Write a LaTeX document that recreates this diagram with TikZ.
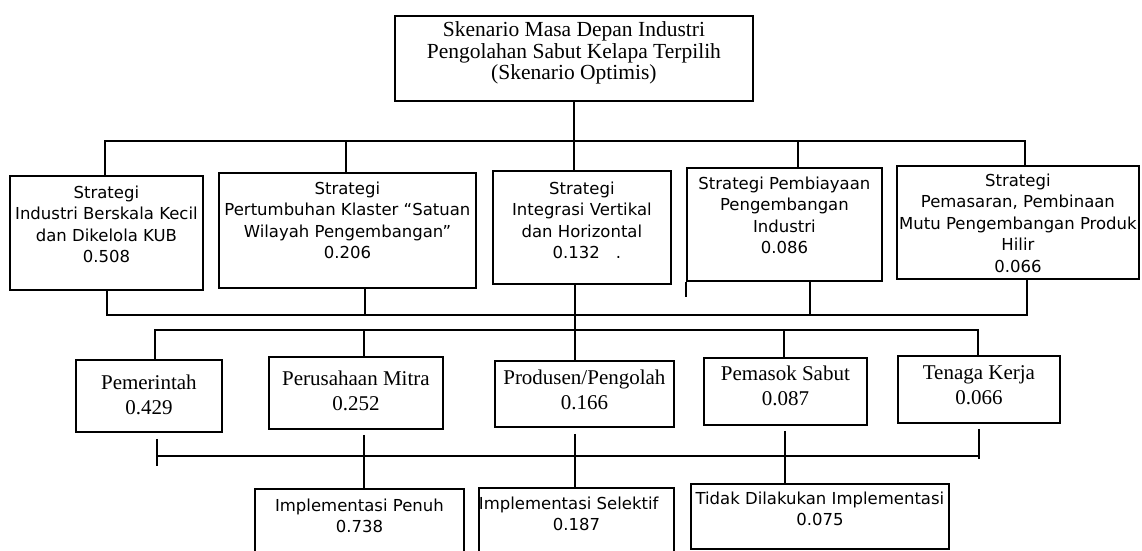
\documentclass[tikz,border=0pt]{standalone}
\usepackage{fontspec}
\setmainfont{Liberation Serif}
\newfontfamily\sansf{DejaVu Sans}
\newcommand{\bx}[5]{\parbox[c][#2][t]{#1}{\vspace*{#3}#4\strut #5\par}}
\newcommand{\sfs}{\sansf\fontsize{16.5}{21.5}\selectfont\centering}
\newcommand{\rms}{\rmfamily\fontsize{21}{25}\selectfont\centering}
\newcommand{\tps}{\rmfamily\fontsize{21.5}{21}\selectfont\centering}
\begin{document}
\begin{tikzpicture}[x=1pt,y=-1pt,
  box/.style={draw,line width=1.8pt,inner sep=0pt,anchor=north west},
  conn/.style={line width=1.8pt}]
\useasboundingbox (0,0) rectangle (1142,550);
% level 1
\node[box] (top) at (394,15) {\bx{358pt}{85pt}{5.3pt}{\tps}{Skenario Masa Depan Industri\\Pengolahan Sabut Kelapa Terpilih\\(Skenario Optimis)}};
% level 2
\node[box] (b1) at (9,175) {\bx{193pt}{114pt}{7.45pt}{\sfs}{Strategi\\Industri Berskala Kecil\\dan Dikelola KUB\\0.508}};
\node[box] (b2) at (218,172) {\bx{257pt}{115pt}{6.45pt}{\sfs}{Strategi\\Pertumbuhan Klaster “Satuan\\Wilayah Pengembangan”\\0.206}};
\node[box] (b3) at (492,170) {\bx{178pt}{113pt}{8.45pt}{\sfs}{Strategi\\Integrasi Vertikal\\dan Horizontal\\\hspace*{10pt}0.132\hspace{16pt}.}};
\node[box] (b4) at (686,167) {\bx{195pt}{113pt}{6.45pt}{\sfs}{Strategi Pembiayaan\\Pengembangan\\Industri\\0.086}};
\node[box] (b5) at (896,165) {\bx{242pt}{113pt}{5.45pt}{\sfs}{Strategi\\Pemasaran, Pembinaan\\Mutu Pengembangan Produk\\Hilir\\0.066}};
% level 3
\node[box] (c1) at (75,359) {\bx{146pt}{72pt}{11.8pt}{\rms}{Pemerintah\\0.429}};
\node[box] (c2) at (268,356) {\bx{174pt}{72pt}{10.8pt}{\rms}{Perusahaan Mitra\\0.252}};
\node[box] (c3) at (494,360) {\bx{179pt}{66pt}{5.8pt}{\rms}{Produsen/Pengolah\\0.166}};
\node[box] (c4) at (703,357) {\bx{163pt}{67pt}{4.8pt}{\rms}{Pemasok Sabut\\0.087}};
\node[box] (c5) at (897,355) {\bx{162pt}{67pt}{5.8pt}{\rms}{Tenaga Kerja\\0.066}};
% level 4
\node[box] (d1) at (254,488) {\bx{209pt}{68pt}{7.45pt}{\sfs}{Implementasi Penuh\\0.738}};
\node[box] (d2) at (478,487) {\bx{195pt}{69pt}{6.45pt}{\sfs}{\makebox[\linewidth][l]{Implementasi Selektif}\\0.187}};
\node[box] (d3) at (690,483) {\bx{258pt}{65pt}{5.45pt}{\sfs}{Tidak Dilakukan Implementasi\\0.075}};
% bus coordinates
\coordinate (s1) at (105,141);
\coordinate (s2) at (346,141);
\coordinate (s4) at (798,141);
\coordinate (s5) at (1025,141);
\coordinate (t1) at (107,315);
\coordinate (t2) at (365,315);
\coordinate (t4) at (810,315);
\coordinate (t5) at (1027,315);
\coordinate (u1) at (155,330);
\coordinate (u2) at (364,330);
\coordinate (u4) at (784,330);
\coordinate (u5) at (978,330);
\coordinate (v1) at (157,456);
\coordinate (v2) at (364,456);
\coordinate (v3) at (575,456);
\coordinate (v4) at (785,456);
\coordinate (v5) at (979,456);
% level 1 -> level 2
\draw[conn] (s1 |- b1.north) -- (s1) -- (s5) -- (s5 |- b5.north);
\draw[conn] (top.south) -- (top.south |- b3.north);
\draw[conn] (s2) -- (s2 |- b2.north);
\draw[conn] (s4) -- (s4 |- b4.north);
\draw[conn] (b4.south west) -- ++(0,15);
% level 2 -> level 3
\draw[conn] (b1.south -| t1) -- (t1) -- (t5) -- (b5.south -| t5);
\draw[conn] (b2.south -| t2) -- (t2);
\draw[conn] (b4.south -| t4) -- (t4);
\draw[conn] (b3.south -| v3) -- (c3.north -| v3);
\draw[conn] (u1 |- c1.north) -- (u1) -- (u5) -- (u5 |- c5.north);
\draw[conn] (u2) -- (u2 |- c2.north);
\draw[conn] (u4) -- (u4 |- c4.north);
% level 3 -> level 4
\draw[conn] ([yshift=-6pt]c1.south -| v1) -- ([yshift=-10pt]v1);
\draw[conn] (v1) -- (v5);
\draw[conn] ([yshift=-5pt]c5.south -| v5) -- ([yshift=-3pt]v5);
\draw[conn] ([yshift=-5pt]c2.south -| v2) -- (d1.north -| v2);
\draw[conn] ([yshift=-6pt]c3.south -| v3) -- (d2.north -| v3);
\draw[conn] ([yshift=-5pt]c4.south -| v4) -- (d3.north -| v4);
\end{tikzpicture}
\end{document}
